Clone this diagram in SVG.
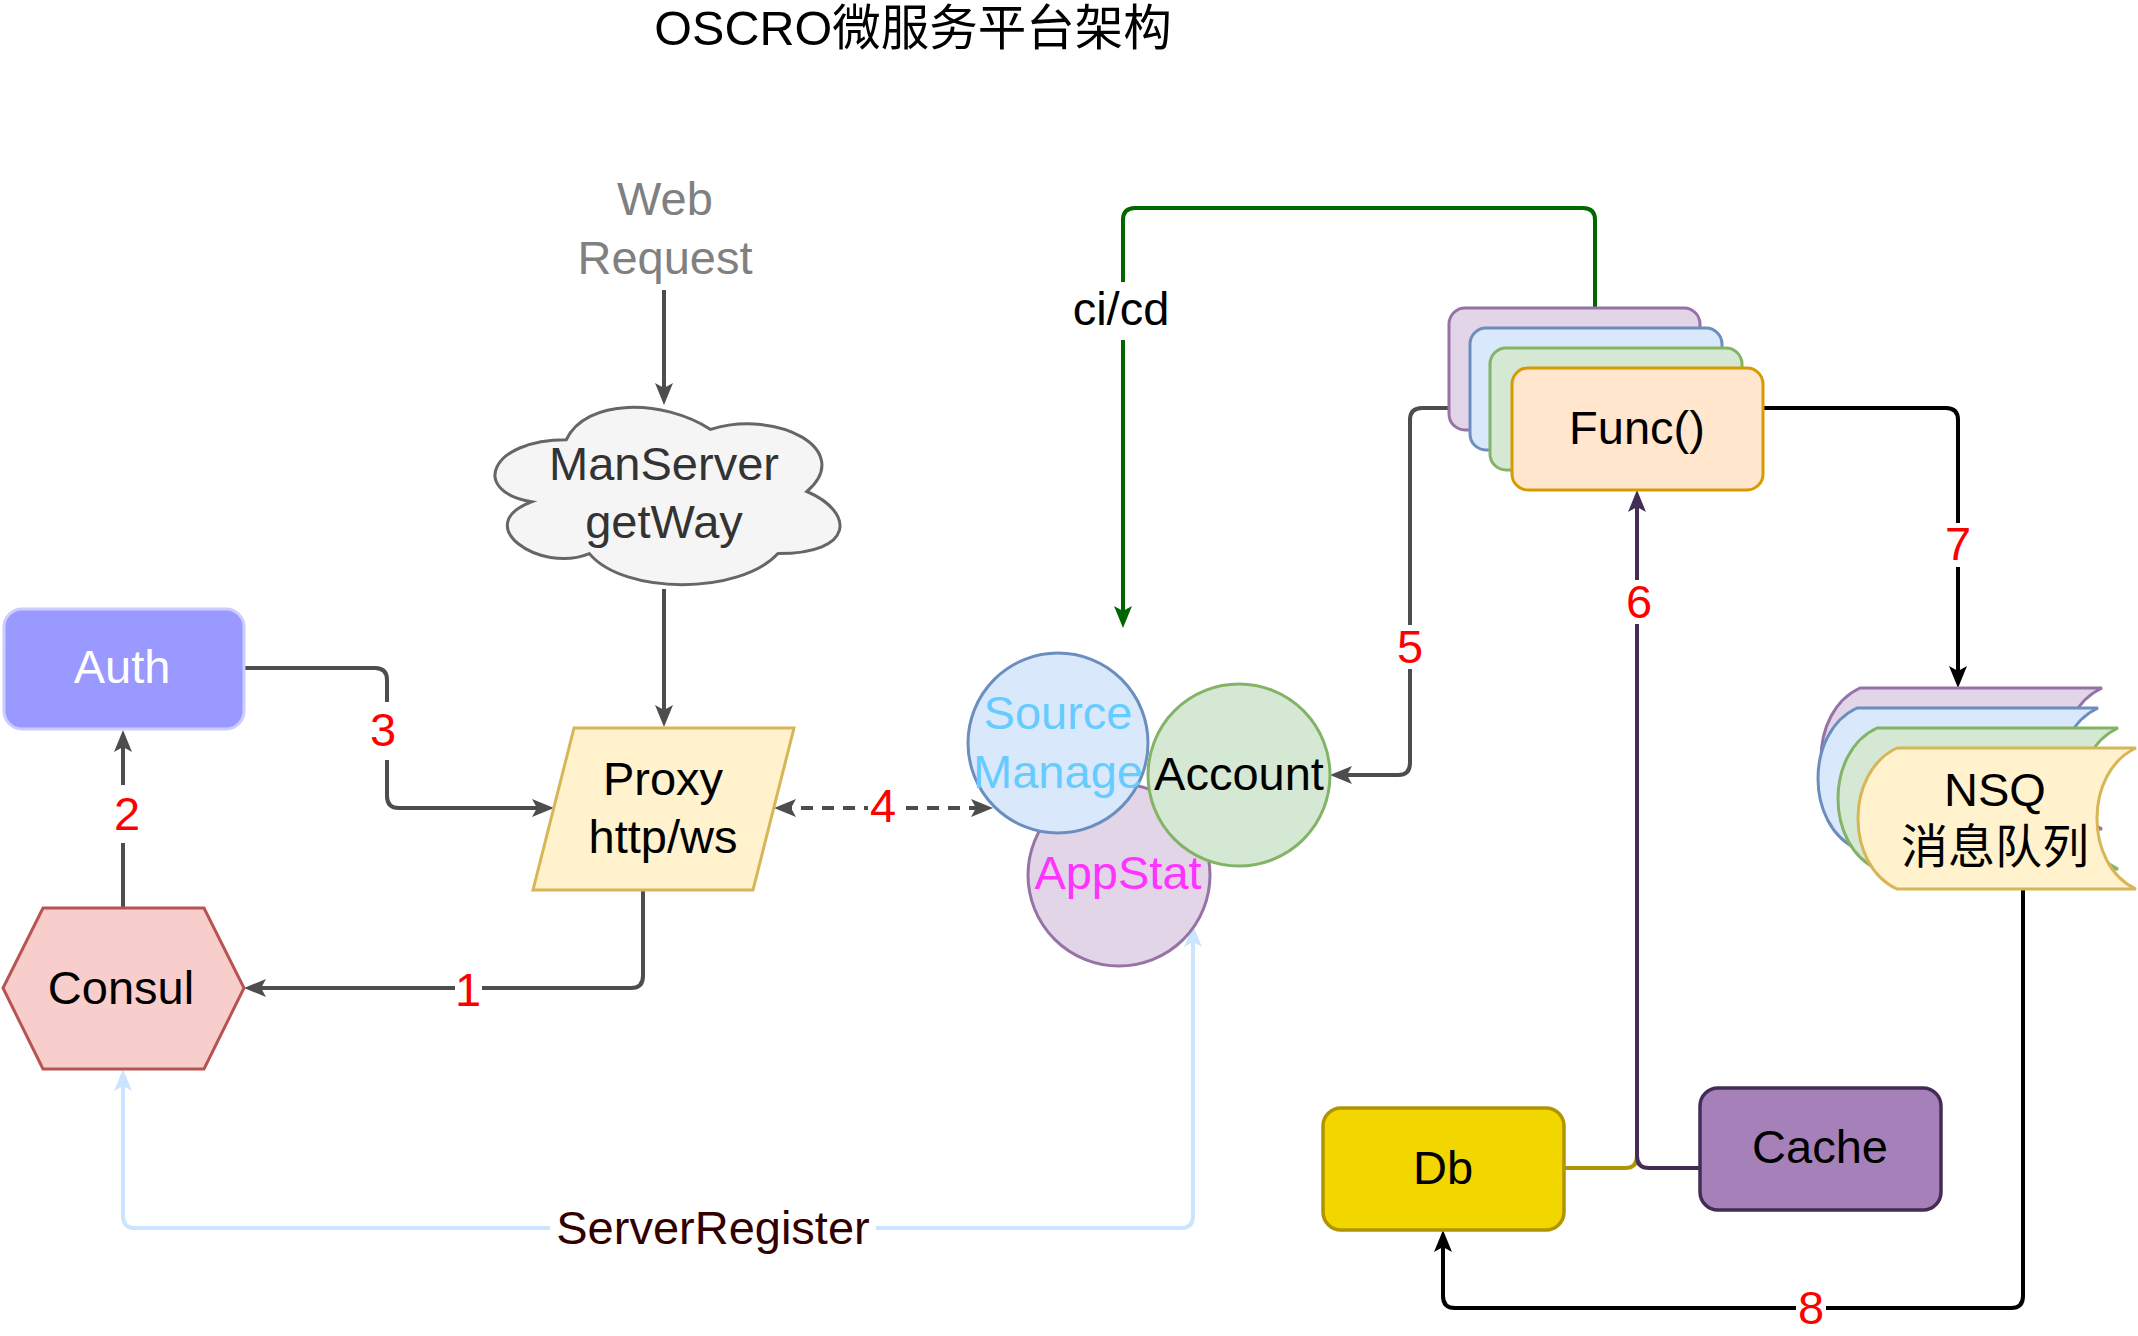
<svg xmlns="http://www.w3.org/2000/svg" width="2138" height="1336" viewBox="0 0 2138 1336">
<style>
.t{font-family:"Liberation Sans","Noto Sans CJK SC",Arial,sans-serif;font-size:47px;text-anchor:middle;fill:#000}
.num{fill:#ff0000}
.e{fill:none;stroke-width:4;stroke-linejoin:round}
.g{stroke:#4d4d4d}
.bg{fill:#fff}
</style>
<defs>
<marker id="aG" viewBox="0 0 22 18" refX="16" refY="9" markerWidth="22" markerHeight="18" markerUnits="userSpaceOnUse" orient="auto-start-reverse"><path d="M0,0 L22,9 L0,18 L5,9 Z" fill="#4d4d4d"/></marker>
<marker id="aGr" viewBox="0 0 22 18" refX="16" refY="9" markerWidth="22" markerHeight="18" markerUnits="userSpaceOnUse" orient="auto-start-reverse"><path d="M0,0 L22,9 L0,18 L5,9 Z" fill="#006600"/></marker>
<marker id="aK" viewBox="0 0 22 18" refX="16" refY="9" markerWidth="22" markerHeight="18" markerUnits="userSpaceOnUse" orient="auto-start-reverse"><path d="M0,0 L22,9 L0,18 L5,9 Z" fill="#000"/></marker>
<marker id="aP" viewBox="0 0 22 18" refX="16" refY="9" markerWidth="22" markerHeight="18" markerUnits="userSpaceOnUse" orient="auto-start-reverse"><path d="M0,0 L22,9 L0,18 L5,9 Z" fill="#432d57"/></marker>
<marker id="aB" viewBox="0 0 22 18" refX="16" refY="9" markerWidth="22" markerHeight="18" markerUnits="userSpaceOnUse" orient="auto-start-reverse"><path d="M0,0 L22,9 L0,18 L5,9 Z" fill="#cce5ff"/></marker>
</defs>
<rect width="2138" height="1336" fill="#fff"/>

<text class="t" x="913" y="45" id="title" style="font-size:48.5px">OSCRO微服务平台架构</text>

<g id="web-request">
<text class="t" x="665" y="215" style="fill:#808080">Web</text>
<text class="t" x="665" y="274" style="fill:#808080">Request</text>
</g>

<g id="connectors">
<!-- ServerRegister -->
<path class="e" stroke="#cce5ff" stroke-width="3.5" d="M1193,931 V1216 Q1193,1228 1181,1228 H135 Q123,1228 123,1216 V1075" marker-start="url(#aB)" marker-end="url(#aB)"/>
<!-- Web -> cloud -->
<path class="e g" d="M664,290 V399" marker-end="url(#aG)"/>
<!-- cloud -> proxy -->
<path class="e g" d="M664,589 V721" marker-end="url(#aG)"/>
<!-- Auth -> Proxy (3) -->
<path class="e g" d="M244,668 H375 Q387,668 387,680 V796 Q387,808 399,808 H548" marker-end="url(#aG)"/>
<!-- Consul -> Auth (2) -->
<path class="e g" d="M123,908 V736" marker-end="url(#aG)"/>
<!-- Proxy -> Consul (1) -->
<path class="e g" d="M643,890 V976 Q643,988 631,988 H250" marker-end="url(#aG)"/>
<!-- Proxy <-> Source (4) -->
<path class="e g" stroke-dasharray="12 9" d="M780,808 H987" marker-start="url(#aG)" marker-end="url(#aG)"/>
<!-- ci/cd -->
<path class="e" stroke="#006600" stroke-width="3.5" d="M1595,328 V220 Q1595,208 1583,208 H1135 Q1123,208 1123,220 V622" marker-end="url(#aGr)"/>
<!-- 5 -->
<path class="e g" d="M1490,408 H1422 Q1410,408 1410,420 V763 Q1410,775 1398,775 H1336" marker-end="url(#aG)"/>
<!-- Db olive -->
<path class="e" stroke="#b09500" stroke-width="3.5" d="M1564,1168 H1625 Q1637,1168 1637,1156 V1140"/>
<!-- 6 -->
<path class="e" stroke="#432d57" stroke-width="3.5" d="M1700,1168 H1649 Q1637,1168 1637,1156 V496" marker-end="url(#aP)"/>
<!-- 7 -->
<path class="e" stroke="#000" stroke-width="3.5" d="M1763,408 H1946 Q1958,408 1958,420 V682" marker-end="url(#aK)"/>
<!-- 8 -->
<path class="e" stroke="#000" stroke-width="3.5" d="M2023,889 V1296 Q2023,1308 2011,1308 H1455 Q1443,1308 1443,1296 V1236" marker-end="url(#aK)"/>

<!-- labels -->
<rect class="bg" x="550" y="1200" width="326" height="58"/>
<text class="t" x="713" y="1244" style="fill:#330000">ServerRegister</text>
<rect class="bg" x="368" y="702" width="30" height="58"/>
<text class="t num" x="383" y="746">3</text>
<rect class="bg" x="112" y="785" width="30" height="58"/>
<text class="t num" x="127" y="830">2</text>
<rect class="bg" x="455" y="962" width="27" height="56"/>
<text class="t num" x="468" y="1006">1</text>
<rect class="bg" x="868" y="786" width="30" height="44"/>
<text class="t num" x="883" y="822">4</text>
<rect class="bg" x="1070" y="282" width="104" height="58"/>
<text class="t" x="1121" y="325">ci/cd</text>
<rect class="bg" x="1395" y="625" width="30" height="44"/>
<text class="t num" x="1410" y="663">5</text>
<rect class="bg" x="1624" y="580" width="30" height="44"/>
<text class="t num" x="1639" y="618">6</text>
<rect class="bg" x="1943" y="523" width="30" height="44"/>
<text class="t num" x="1958" y="560">7</text>
<rect class="bg" x="1796" y="1290" width="30" height="36"/>
<text class="t num" x="1811" y="1324">8</text>
</g>

<g id="cloud">
<path d="M566.25,439.75 C489.25,439.75 470,491.5 531.6,501.85 C470,524.62 539.3,574.3 589.35,553.6 C624,595 739.5,595 778,553.6 C855,553.6 855,512.2 806.9,491.5 C855,450.1 778,408.7 710.6,429.4 C662.5,398.35 585.5,398.35 566.25,439.75 Z" fill="#f5f5f5" stroke="#666666" stroke-width="3"/>
<text class="t" x="664" y="480" style="fill:#333">ManServer</text>
<text class="t" x="664" y="538" style="fill:#333">getWay</text>
</g>

<g id="auth">
<rect x="4" y="609" width="240" height="120" rx="18" fill="#9999ff" stroke="#ccccff" stroke-width="3"/>
<text class="t" x="122" y="683" style="fill:#fff">Auth</text>
</g>

<g id="proxy">
<polygon points="574,728 794,728 753,890 533,890" fill="#fff2cc" stroke="#d6b656" stroke-width="3"/>
<text class="t" x="663" y="795">Proxy</text>
<text class="t" x="663" y="853">http/ws</text>
</g>

<g id="consul">
<polygon points="43,908 204,908 244,988 204,1069 43,1069 3,988" fill="#f8cecc" stroke="#b85450" stroke-width="3"/>
<text class="t" x="121" y="1004">Consul</text>
</g>

<g id="appstat">
<circle cx="1119" cy="875" r="91" fill="#e1d5e7" stroke="#9673a6" stroke-width="3"/>
<text class="t" x="1118" y="889" style="fill:#ff33ff">AppStat</text>
</g>

<g id="source-manage">
<circle cx="1058" cy="743" r="90" fill="#dae8fc" stroke="#6c8ebf" stroke-width="3"/>
<text class="t" x="1058" y="729" style="fill:#66ccff">Source</text>
<text class="t" x="1058" y="788" style="fill:#66ccff">Manage</text>
</g>

<g id="account">
<circle cx="1239" cy="775" r="91" fill="#d5e8d4" stroke="#82b366" stroke-width="3"/>
<text class="t" x="1239" y="790">Account</text>
</g>

<g id="func">
<rect x="1449" y="308" width="251" height="122" rx="16" fill="#e1d5e7" stroke="#9673a6" stroke-width="3"/>
<rect x="1470" y="328" width="252" height="122" rx="16" fill="#dae8fc" stroke="#6c8ebf" stroke-width="3"/>
<rect x="1490" y="348" width="252" height="122" rx="16" fill="#d5e8d4" stroke="#82b366" stroke-width="3"/>
<rect x="1512" y="368" width="251" height="122" rx="16" fill="#ffe6cc" stroke="#d79b00" stroke-width="3"/>
<text class="t" x="1637" y="444">Func()</text>
</g>

<g id="nsq">
<path d="M1860,688 H2102 C2050,712 2050,805 2102,829 H1860 C1808,805 1808,712 1860,688 Z" fill="#e1d5e7" stroke="#9673a6" stroke-width="3"/>
<path d="M1857,708 H2098 C2046,732 2046,825 2098,849 H1857 C1805,825 1805,732 1857,708 Z" fill="#dae8fc" stroke="#6c8ebf" stroke-width="3"/>
<path d="M1877,728 H2118 C2066,752 2066,845 2118,869 H1877 C1825,845 1825,752 1877,728 Z" fill="#d5e8d4" stroke="#82b366" stroke-width="3"/>
<path d="M1897,748 H2136 C2084,772 2084,865 2136,889 H1897 C1845,865 1845,772 1897,748 Z" fill="#fff2cc" stroke="#d6b656" stroke-width="3"/>
<text class="t" x="1995" y="806">NSQ</text>
<text class="t" x="1995" y="863">消息队列</text>
</g>

<g id="db">
<rect x="1323" y="1108" width="241" height="122" rx="18" fill="#f2d600" stroke="#b09500" stroke-width="3.5"/>
<text class="t" x="1443" y="1184">Db</text>
</g>

<g id="cache">
<rect x="1700" y="1088" width="241" height="122" rx="18" fill="#a680b8" stroke="#432d57" stroke-width="3.5"/>
<text class="t" x="1820" y="1163">Cache</text>
</g>
</svg>
